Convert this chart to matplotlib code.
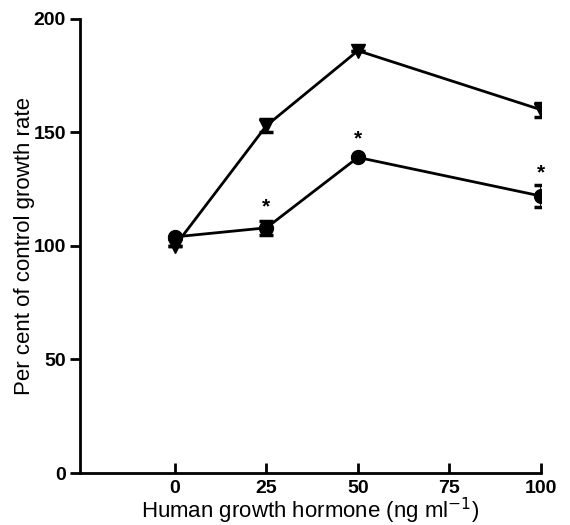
import numpy as np
import matplotlib
matplotlib.use('Agg')
import matplotlib.pyplot as plt

plt.rcParams['font.family'] = ['Liberation Sans', 'DejaVu Sans']

# doses of human growth hormone (ng/ml)
doses = [0, 25, 50, 100]

# triangles series
tri_mean = [100, 153, 186, 160]
tri_err = [0, 3, 0, 3]

# circles series
circ_mean = [104, 108, 139, 122]
circ_err = [0, 3, 0, 5]

# asterisks above circles
star_doses = [25, 50, 100]
star_y = [117, 147, 132]

x_ticks = [0, 25, 50, 75, 100]
y_ticks = [0, 50, 100, 150, 200]

fig = plt.figure(figsize=(5.7, 5.25), dpi=100)
ax = fig.add_axes([0.14, 0.099, 0.809, 0.865])

ax.errorbar(doses, tri_mean, yerr=tri_err, color='black', marker='v', markersize=10,
            linewidth=2, elinewidth=2, capsize=5, capthick=2.5)
ax.errorbar(doses, circ_mean, yerr=circ_err, color='black', marker='o', markersize=10,
            linewidth=2, elinewidth=2, capsize=5, capthick=2.5)

for xs, ys in zip(star_doses, star_y):
    ax.text(xs, ys, '*', ha='center', va='center', fontsize=15, fontweight='bold')

ax.set_xlim(-26, 100)
ax.set_ylim(0, 200)
ax.set_xticks(x_ticks)
ax.set_yticks(y_ticks)
ax.spines['top'].set_visible(False)
ax.spines['right'].set_visible(False)
ax.spines['left'].set_linewidth(2)
ax.spines['bottom'].set_linewidth(2)
ax.tick_params(axis='x', direction='in', length=7, width=2, labelsize=14, pad=5)
ax.tick_params(axis='y', direction='out', length=7, width=2, labelsize=14, pad=3)
for lab in ax.get_xticklabels() + ax.get_yticklabels():
    lab.set_fontweight('bold')

plt.rcParams['mathtext.fontset'] = 'custom'
plt.rcParams['mathtext.rm'] = 'Liberation Sans'
ax.set_xlabel('Human growth hormone (ng ml$^{\\mathrm{-1}}$)', fontsize=16, labelpad=-1)
ax.set_ylabel('Per cent of control growth rate', fontsize=16, labelpad=-1)

fig.savefig('out.png', dpi=100)
